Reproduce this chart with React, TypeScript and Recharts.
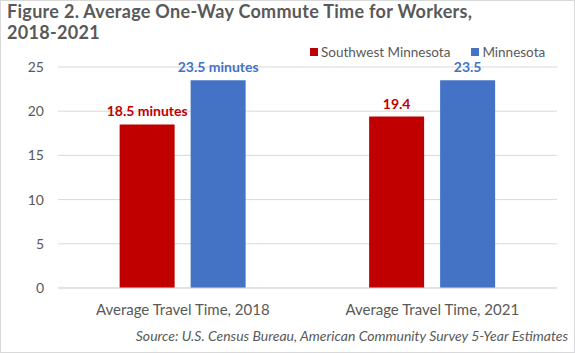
import { Bar, BarChart, CartesianGrid, LabelList, XAxis, YAxis } from "recharts";

const categories = ["Average Travel Time, 2018", "Average Travel Time, 2021"];
const southwestValues = [18.5, 19.4];
const minnesotaValues = [23.5, 23.5];
const southwestLabels = ["18.5 minutes", "19.4"];
const minnesotaLabels = ["23.5 minutes", "23.5"];
const yTicks = [0, 5, 10, 15, 20, 25];

const RED = "#C00000";
const BLUE = "#4472C4";
const GRAY = "#595959";
const FONT = "Lato, 'Open Sans', sans-serif";

const data = categories.map((name, i) => ({
  name,
  southwest: southwestValues[i],
  minnesota: minnesotaValues[i],
  swLabel: southwestLabels[i],
  mnLabel: minnesotaLabels[i],
}));

// single-line label above the bar (the default one wraps to bar width)
function topLabel(color: string) {
  return (props: any) => {
    const { x, y, width, value } = props;
    return (
      <text
        x={Number(x) + Number(width) / 2}
        y={Number(y) - 8}
        textAnchor="middle"
        fill={color}
        fontSize={14}
        fontWeight={700}
        fontFamily={FONT}
      >
        {value}
      </text>
    );
  };
}

export default function App() {
  const legendItems = [
    { label: "Southwest Minnesota", color: RED },
    { label: "Minnesota", color: BLUE },
  ];
  return (
    <div
      style={{
        position: "fixed",
        left: 0,
        top: 0,
        width: 575,
        height: 353,
        background: "#fff",
        fontFamily: FONT,
      }}
    >
      <div
        style={{
          position: "absolute",
          inset: 0,
          border: "1px solid #d9d9d9",
          boxSizing: "border-box",
          pointerEvents: "none",
        }}
      />
      <div
        style={{
          position: "absolute",
          left: 7,
          top: 1,
          fontSize: 18,
          fontWeight: 700,
          letterSpacing: 0.3,
          color: GRAY,
          lineHeight: "21px",
        }}
      >
        Figure 2. Average One-Way Commute Time for Workers,
        <br />
        2018-2021
      </div>
      <div
        style={{
          position: "absolute",
          left: 310,
          top: 44,
          display: "flex",
          gap: 21,
          fontSize: 13.5,
          color: GRAY,
        }}
      >
        {legendItems.map((it) => (
          <div key={it.label} style={{ display: "flex", alignItems: "center", gap: 3 }}>
            <span style={{ width: 8, height: 8, background: it.color, display: "inline-block" }} />
            {it.label}
          </div>
        ))}
      </div>
      <BarChart
        width={575}
        height={353}
        data={data}
        margin={{ top: 67, right: 18, left: 0, bottom: 35 }}
        barCategoryGap="24.7%"
        barGap={16}
      >
        <CartesianGrid vertical={false} stroke="#d9d9d9" />
        <XAxis
          dataKey="name"
          tickLine={false}
          axisLine={{ stroke: "#d9d9d9" }}
          tick={{ fill: GRAY, fontSize: 15, fontFamily: FONT }}
          tickMargin={10}
          height={30}
        />
        <YAxis
          domain={[0, 25]}
          ticks={yTicks}
          width={58}
          tickLine={false}
          axisLine={false}
          tick={{ fill: GRAY, fontSize: 14, fontFamily: FONT }}
          tickMargin={8}
        />
        <Bar dataKey="southwest" name="Southwest Minnesota" fill={RED} isAnimationActive={false}>
          <LabelList dataKey="swLabel" content={topLabel(RED)} />
        </Bar>
        <Bar dataKey="minnesota" name="Minnesota" fill={BLUE} isAnimationActive={false}>
          <LabelList dataKey="mnLabel" content={topLabel(BLUE)} />
        </Bar>
      </BarChart>
      <div
        style={{
          position: "absolute",
          right: 7,
          top: 327,
          fontSize: 14,
          fontStyle: "italic",
          color: GRAY,
        }}
      >
        Source: U.S. Census Bureau, American Community Survey 5-Year Estimates
      </div>
    </div>
  );
}
